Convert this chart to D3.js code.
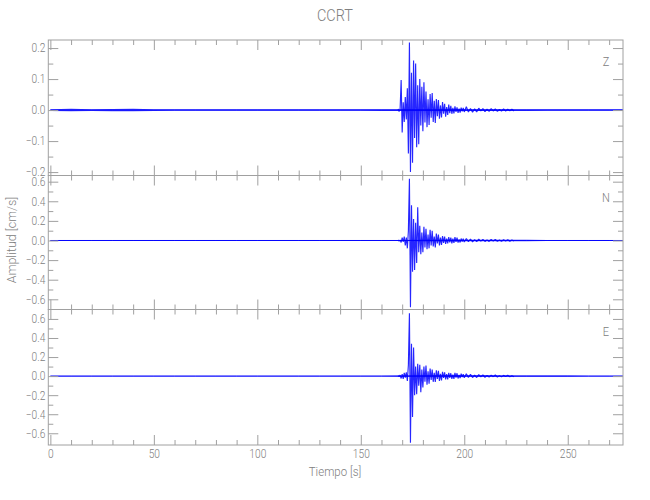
<!DOCTYPE html>
<html><head><meta charset="utf-8">
<script src="https://cdn.jsdelivr.net/npm/d3@7"></script>
<style>
body{margin:0;background:#fff}
text{font-family:"Roboto","DejaVu Sans",sans-serif;font-weight:300;fill:#808080}
</style>
</head><body>
<svg id="c" width="650" height="500"></svg>
<script>
// ---------------- DATA ----------------
const title = "CCRT";
const channelNames = ["Z", "N", "E"];
const xLabel = "Tiempo [s]";
const yLabel = "Amplitud [cm/s]";

const xMajorTicks = [0, 50, 100, 150, 200, 250];
const yDomains = [[-0.211, 0.226], [-0.704, 0.663], [-0.723, 0.699]];
const yMajorTicks = [[-0.2, -0.1, 0.0, 0.1, 0.2], [-0.6, -0.4, -0.2, 0.0, 0.2, 0.4, 0.6], [-0.6, -0.4, -0.2, 0.0, 0.2, 0.4, 0.6]];
const yMinorTicks = [[-0.15, -0.05, 0.05, 0.15], [-0.5, -0.3, -0.1, 0.1, 0.3, 0.5], [-0.5, -0.3, -0.1, 0.1, 0.3, 0.5]];

// background noise envelope (± amplitude, cm/s)
const noiseT = [0, 10, 20, 30, 40, 50, 60, 70, 80, 90, 100, 110, 120, 130, 140, 150, 160, 170, 180, 190, 200, 210, 220, 230, 240, 250, 260, 270, 276.7];
const zNoise = [0.003, 0.004, 0.003, 0.0035, 0.004, 0.003, 0.0025, 0.0025, 0.0025, 0.0025, 0.0025, 0.0025, 0.0025, 0.0025, 0.0025, 0.0025, 0.003, 0.003, 0.003, 0.003, 0.003, 0.003, 0.003, 0.003, 0.0025, 0.0025, 0.0025, 0.0025, 0.0025];
const nNoise = [0.005, 0.005, 0.005, 0.005, 0.005, 0.005, 0.005, 0.005, 0.005, 0.005, 0.005, 0.005, 0.005, 0.005, 0.005, 0.005, 0.005, 0.006, 0.008, 0.008, 0.008, 0.008, 0.007, 0.007, 0.006, 0.006, 0.005, 0.005, 0.005];
const eNoise = [0.005, 0.005, 0.005, 0.005, 0.005, 0.005, 0.005, 0.005, 0.005, 0.005, 0.005, 0.005, 0.005, 0.005, 0.005, 0.005, 0.005, 0.006, 0.008, 0.008, 0.008, 0.008, 0.007, 0.007, 0.006, 0.006, 0.005, 0.005, 0.005];

// event: alternating peak samples, times in s
const eventT = [168.0, 168.5, 169.0, 169.5, 170.0, 170.5, 171.0, 171.5, 172.0, 172.5, 173.0, 173.5, 174.0, 174.5, 175.0, 175.5, 176.0, 176.5, 177.0, 177.5, 178.0, 178.5, 179.0, 179.5, 180.0, 180.5, 181.0, 181.5, 182.0, 182.5, 183.0, 183.5, 184.0, 184.5, 185.0, 185.5, 186.0, 186.5, 187.0, 187.5, 188.0, 188.5, 189.0, 189.5, 190.0, 190.5, 191.0, 191.5, 192.0, 192.5, 193.0, 193.5, 194.0, 194.5, 195.0, 195.5, 196.0, 196.5, 197.0, 197.5, 198.0, 198.5, 199.0, 199.5, 200.0,
  201, 202, 203, 204, 205, 206, 207, 208, 209, 210, 211, 212, 213, 214, 215, 216, 217, 218, 219, 220, 221, 222, 223, 224];
const zEvent = [0.004, -0.005, 0.003, 0.097, -0.072, 0.025, -0.038, 0.042, -0.03, 0.07, -0.14, 0.218, -0.2, 0.12, -0.17, 0.16, -0.09, 0.15, -0.12, 0.08, -0.11, 0.1, -0.05, 0.075, -0.068, 0.09, -0.04, 0.06, -0.055, 0.035, -0.048, 0.052, -0.025, 0.055, -0.038, 0.03, -0.042, 0.036, -0.02, 0.032, -0.028, 0.015, -0.024, 0.026, -0.012, 0.02, -0.021, 0.01, -0.016, 0.018, -0.01, 0.014, -0.012, 0.007, -0.011, 0.012, -0.006, 0.009, -0.009, 0.005, -0.008, 0.008, -0.004, 0.007, -0.006,
  0.011, -0.006, 0.005, -0.007, 0.004, -0.006, 0.006, -0.003, 0.005, -0.005, 0.003, -0.004, 0.005, -0.003, 0.004, -0.004, 0.002, -0.003, 0.004, -0.003, 0.003, -0.002, 0.003, -0.003];
const nEvent = [0.005, -0.006, 0.004, -0.02, 0.03, -0.015, 0.04, -0.05, 0.03, -0.08, 0.1, 0.63, -0.68, 0.36, -0.32, 0.22, -0.3, 0.18, -0.23, 0.34, -0.12, 0.15, -0.14, 0.08, -0.12, 0.14, -0.07, 0.12, -0.09, 0.06, -0.08, 0.11, -0.05, 0.1, -0.06, 0.04, -0.07, 0.07, -0.03, 0.06, -0.05, 0.03, -0.045, 0.045, -0.025, 0.04, -0.035, 0.02, -0.03, 0.035, -0.02, 0.03, -0.03, 0.018, -0.025, 0.035, -0.015, 0.03, -0.022, 0.012, -0.02, 0.02, -0.01, 0.018, -0.016,
  0.02, -0.012, 0.015, -0.014, 0.008, -0.012, 0.013, -0.007, 0.012, -0.01, 0.006, -0.01, 0.012, -0.006, 0.01, -0.008, 0.005, -0.008, 0.008, -0.005, 0.008, -0.007, 0.004, -0.006];
const eEvent = [0.005, -0.006, 0.01, -0.025, 0.02, -0.03, 0.035, -0.015, 0.04, -0.05, 0.12, 0.66, -0.70, 0.34, -0.43, 0.3, -0.2, 0.1, -0.19, 0.13, -0.1, 0.12, -0.17, 0.07, -0.12, 0.1, -0.06, 0.11, -0.09, 0.05, -0.08, 0.08, -0.04, 0.07, -0.06, 0.035, -0.06, 0.06, -0.03, 0.055, -0.05, 0.025, -0.045, 0.045, -0.02, 0.04, -0.035, 0.02, -0.035, 0.035, -0.018, 0.03, -0.03, 0.015, -0.03, 0.035, -0.015, 0.03, -0.025, 0.012, -0.02, 0.025, -0.01, 0.02, -0.018,
  0.025, -0.015, 0.02, -0.015, 0.01, -0.015, 0.015, -0.008, 0.013, -0.012, 0.007, -0.01, 0.01, -0.006, 0.012, -0.009, 0.005, -0.008, 0.008, -0.005, 0.008, -0.007, 0.004, -0.006];

const noiseSeries = [zNoise, nNoise, eNoise];
const eventSeries = [zEvent, nEvent, eEvent];

// ---------------- DRAW ----------------
const svg = d3.select("#c");
const axisColor = "#a0a0a0";
const left = 48.3, right = 623;
const panelTops = [40, 175.5, 309.5], panelBottoms = [175.5, 309.5, 445];

const x = d3.scaleLinear().domain([-1, 276.7]).range([left, right]);
const xMinor = d3.range(10, 277, 10).filter(v => !xMajorTicks.includes(v));

function styleAxis(g) {
  g.select(".domain").remove();
  g.selectAll("line").attr("stroke", axisColor);
  g.selectAll("text").attr("fill", "#808080").style("font-size", "12px");
}

channelNames.forEach((name, i) => {
  const top = panelTops[i], bot = panelBottoms[i];
  const y = d3.scaleLinear().domain(yDomains[i]).range([bot, top]);
  const g = svg.append("g");

  const clipId = "clip" + i;
  svg.append("clipPath").attr("id", clipId).append("rect")
    .attr("x", left).attr("y", top).attr("width", right - left).attr("height", bot - top);

  const data = g.append("g").attr("clip-path", `url(#${clipId})`);
  const noise = noiseT.map((t, k) => [t, noiseSeries[i][k]]);
  data.append("path").datum(noise)
    .attr("fill", "#0000ff").attr("fill-opacity", 0.8)
    .attr("d", d3.area().x(d => x(d[0])).y0(d => y(-d[1])).y1(d => y(d[1])));
  data.append("path").datum(noise)
    .attr("fill", "none").attr("stroke", "#0000ff").attr("stroke-width", 0.9)
    .attr("d", d3.line().x(d => x(d[0])).y(() => y(0)));
  const ev = eventT.map((t, k) => [t, eventSeries[i][k]]);
  data.append("path").datum(ev)
    .attr("fill", "none").attr("stroke", "#0000ff").attr("stroke-width", 1.15).attr("stroke-opacity", 0.85)
    .attr("stroke-linejoin", "miter").attr("stroke-miterlimit", 1)
    .attr("d", d3.line().x(d => x(d[0])).y(d => y(d[1])));

  // frame
  g.append("rect").attr("x", left).attr("y", top).attr("width", right - left).attr("height", bot - top)
    .attr("fill", "none").attr("stroke", axisColor).attr("stroke-width", 1);

  // y axes (left with labels, right ticks only)
  g.append("g").attr("transform", `translate(${left},0)`)
    .call(d3.axisLeft(y).tickValues(yMajorTicks[i]).tickSize(-10).tickPadding(3).tickFormat(d3.format(".1f")))
    .call(styleAxis);
  g.append("g").attr("transform", `translate(${left},0)`)
    .call(d3.axisLeft(y).tickValues(yMinorTicks[i]).tickSize(-5).tickFormat(""))
    .call(styleAxis);
  g.append("g").attr("transform", `translate(${right},0)`)
    .call(d3.axisRight(y).tickValues(yMajorTicks[i]).tickSize(-10).tickFormat(""))
    .call(styleAxis);
  g.append("g").attr("transform", `translate(${right},0)`)
    .call(d3.axisRight(y).tickValues(yMinorTicks[i]).tickSize(-5).tickFormat(""))
    .call(styleAxis);

  // x axes top and bottom of each panel
  const isLast = i === channelNames.length - 1;
  g.append("g").attr("transform", `translate(0,${bot})`)
    .call(d3.axisBottom(x).tickValues(xMajorTicks).tickSize(-10).tickPadding(4).tickFormat(isLast ? d3.format("d") : ""))
    .call(styleAxis);
  g.append("g").attr("transform", `translate(0,${bot})`)
    .call(d3.axisBottom(x).tickValues(xMinor).tickSize(-5).tickFormat(""))
    .call(styleAxis);
  g.append("g").attr("transform", `translate(0,${top})`)
    .call(d3.axisTop(x).tickValues(xMajorTicks).tickSize(-10).tickFormat(""))
    .call(styleAxis);
  g.append("g").attr("transform", `translate(0,${top})`)
    .call(d3.axisTop(x).tickValues(xMinor).tickSize(-5).tickFormat(""))
    .call(styleAxis);

  g.append("text").attr("x", 606).attr("y", top + 26).attr("text-anchor", "middle")
    .style("font-size", "13px").text(name);
});

svg.append("text").attr("x", 335).attr("y", 21).attr("text-anchor", "middle")
  .style("font-size", "17px").text(title);
svg.append("text").attr("x", 335).attr("y", 476).attr("text-anchor", "middle")
  .style("font-size", "13.5px").text(xLabel);
svg.append("text").attr("class", "ylab").attr("transform", "translate(16,240) rotate(-90)").attr("text-anchor", "middle")
  .style("font-size", "13.5px").text(yLabel);

// condense all text horizontally to mimic the narrow plotting font
svg.selectAll("text").each(function () {
  const w = this.getComputedTextLength();
  const f = this.getAttribute("class") === "ylab" ? 0.92 : 0.85;
  if (w > 0) d3.select(this).attr("textLength", w * f).attr("lengthAdjust", "spacingAndGlyphs");
});
</script>
</body></html>
